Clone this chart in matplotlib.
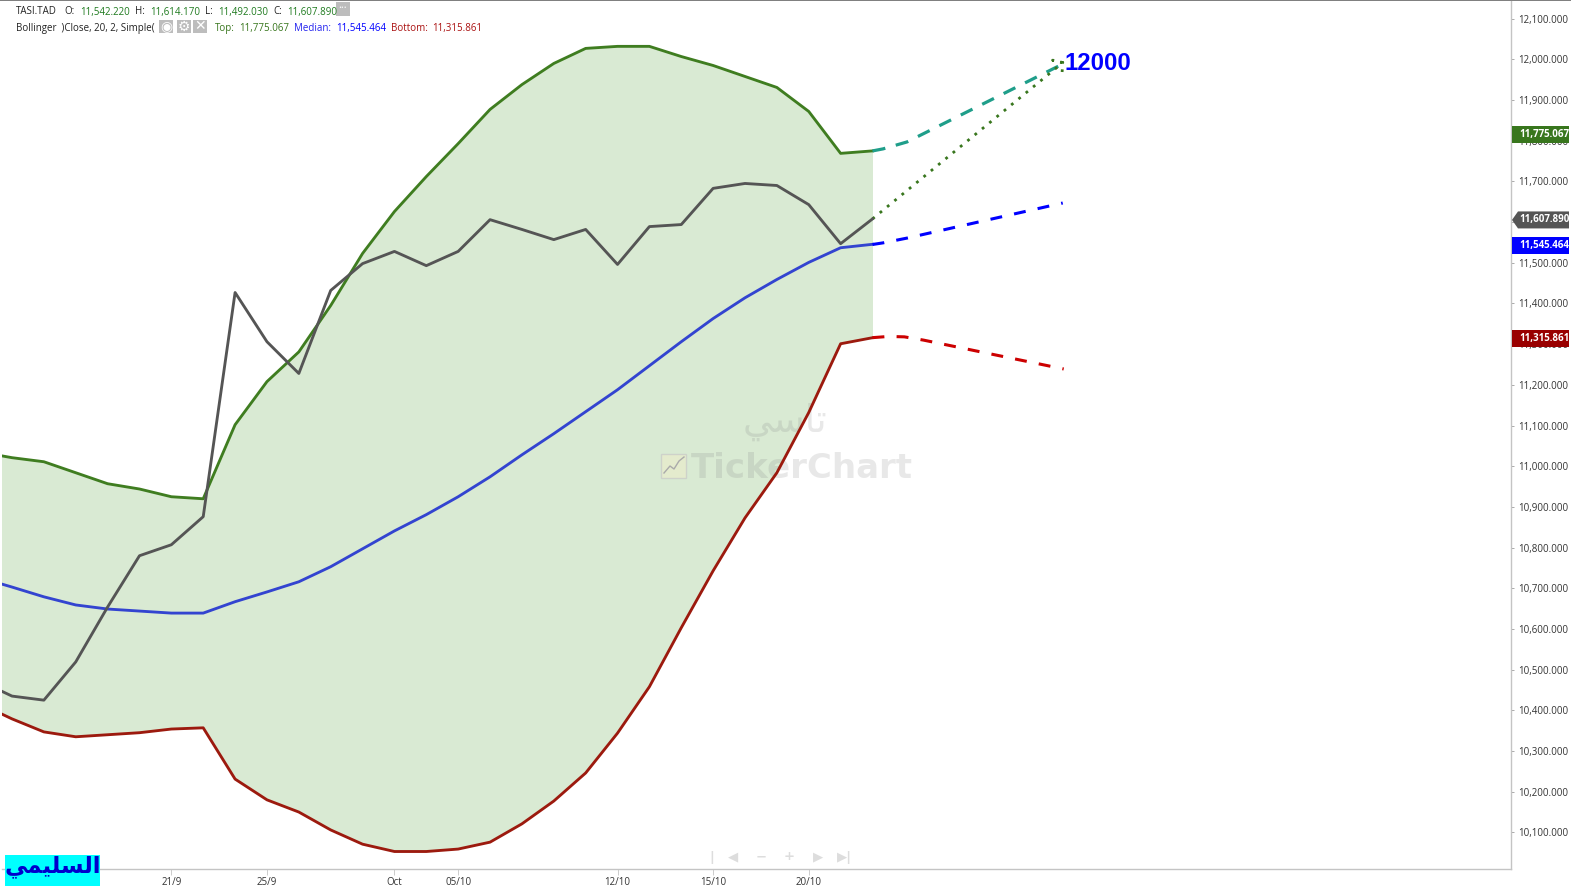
import numpy as np
import matplotlib
matplotlib.use("Agg")
import matplotlib.pyplot as plt
from matplotlib.patches import Rectangle, Polygon
from matplotlib.transforms import Affine2D

# daily bars, first one sits just off the left edge
top = [11035, 11021, 11011, 10984, 10957, 10944, 10925, 10920, 11102, 11208,
       11281, 11395, 11523, 11626, 11712, 11793, 11877, 11938, 11990, 12027,
       12032, 12032, 12007, 11985, 11958, 11931, 11872, 11769, 11775.067]
median = [10726, 10703, 10679, 10659, 10649, 10644, 10639, 10639, 10667, 10691,
          10716, 10753, 10797, 10841, 10881, 10925, 10974, 11028, 11080, 11134,
          11188, 11247, 11306, 11363, 11414, 11459, 11501, 11537, 11545.464]
bottom = [10416, 10379, 10347, 10335, 10340, 10345, 10354, 10357, 10231, 10180,
          10150, 10106, 10071, 10053, 10053, 10059, 10076, 10121, 10177, 10246,
          10344, 10458, 10603, 10743, 10873, 10984, 11132, 11301, 11315.861]
close = [10472, 10435, 10425, 10519, 10654, 10780, 10807, 10876, 11427, 11306,
         11228, 11432, 11498, 11528, 11493, 11528, 11606, 11582, 11557, 11582,
         11496, 11589, 11594, 11683, 11695, 11690, 11643, 11547, 11607.89]
bars = np.arange(-1, 28)

# hand drawn projections
proj_x = [27, 27.33, 28.08, 32.85]
proj_top = [11775, 11780, 11797, 11984]
proj_med_x = [27, 27.33, 28.1, 32.97]
proj_median = [11545, 11549, 11561, 11647]
proj_red_x = [27, 27.5, 28, 28.6, 33]
proj_bottom = [11316, 11319, 11318, 11310, 11239]
arrow_x = [27, 32.97, 32.65, 32.97, 32.95]
arrow_y = [11608, 11992, 11998, 11992, 11969]

date_pos = [5, 8, 12, 14, 19, 22, 25]
date_labels = ["21/9", "25/9", "Oct", "05/10", "12/10", "15/10", "20/10"]
price_ticks = np.arange(10100, 12101, 100)

W, H = 1571, 891
fig = plt.figure(figsize=(W / 100, H / 100), dpi=100)
px = Affine2D().scale(1, -1).translate(0, H)  # pixel coords, y down
FONT = "Open Sans"

left, right, ax_top, ax_bot = 1.5, 1510.5, 1, 869
ax = fig.add_axes([left / W, 1 - ax_bot / H, (right - left) / W, (ax_bot - ax_top) / H])
step = 31.87
ax.set_xlim((left - 12) / step, (right - 12) / step)
ymin, ymax = 10010, 12143.5
ax.set_ylim(ymin, ymax)

ax.fill_between(bars, bottom, top, color="#d9ead3", lw=0, zorder=1)

# watermark goes over the band
ax.text(785, 422, "\uFEF2\uFEB3\uFE8E\uFE97", transform=px, ha="center", va="center",
        fontsize=27, family="DejaVu Sans", color="#808080", alpha=0.18, zorder=1.5)
ax.text(802, 469, "TickerChart", transform=px, ha="center", va="center",
        fontsize=24.5, family="DejaVu Sans", weight="bold", color="#808080", alpha=0.18, zorder=1.5)
ax.add_patch(Rectangle((661, 454), 25, 24, transform=px, fc="#e9eccb", ec="#c8c8c8", alpha=0.7, lw=1, zorder=1.5))
ax.plot([664, 670, 674, 679, 684], [473, 466, 469, 461, 457], transform=px, color="#aaaaaa", lw=1, zorder=1.5)

lw = 2.05
ax.plot(bars, top, color="#3f7d20", lw=lw, zorder=3)
ax.plot(bars, median, color="#3344d0", lw=lw, zorder=3)
ax.plot(bars, bottom, color="#9c1a0e", lw=lw, zorder=3)
ax.plot(bars, close, color="#555555", lw=lw, zorder=4)

ax.plot(proj_x, proj_top, color="#1f9e8a", lw=2.3, dashes=(4.1, 3.4), zorder=3)
ax.plot(proj_med_x, proj_median, color="#0000ff", lw=2.2, dashes=(3.9, 4.0), zorder=3)
ax.plot(proj_red_x, proj_bottom, color="#cc0000", lw=2.2, dashes=(3.9, 4.0), zorder=3)
ax.plot(arrow_x, arrow_y, color="#38761d", lw=2, ls=(0, (1, 2.4)), zorder=3)

ax.text(1065, 64, "12000", transform=px, ha="left", va="center", fontsize=17.2,
        family="Liberation Sans", weight="bold", color="#0000ff", zorder=5)

for s in ["top", "left"]:
    ax.spines[s].set_visible(False)
for s in ["right", "bottom"]:
    ax.spines[s].set_color("#c4c4c4")
    ax.spines[s].set_linewidth(1)

ax.yaxis.tick_right()
ax.set_yticks(price_ticks)
ax.set_yticklabels([f"{v:,.3f}" for v in price_ticks], fontsize=7, family=FONT, color="#333333")
ax.tick_params(axis="y", length=2, width=0.7, color="#aaaaaa", pad=3.5)
ax.set_xticks(date_pos)
ax.set_xticklabels(date_labels, fontsize=7, family=FONT, color="#333333")
ax.tick_params(axis="x", length=4, width=0.7, color="#cccccc", pad=1.6)

# price tags on the right scale, the top one is pushed up off the 11,775 level
yt = ax.get_yaxis_transform()
tag_h = 17 / (ax_bot - ax_top) * (ymax - ymin)
fx = lambda p: (p - left) / (right - left)
tags = [(top[-1], 11815, "#38761d"), (median[-1], median[-1] - 2.5, "#0000ff"), (bottom[-1], bottom[-1] - 2, "#990000")]
for v, pos, c in tags:
    ax.add_patch(Rectangle((fx(1512), pos - tag_h / 2), fx(1569) - fx(1512), tag_h, transform=yt, fc=c, ec="none",
                           clip_on=False, zorder=6))
    ax.text(fx(1519.5), pos, f"{v:,.3f}", transform=yt, ha="left", va="center", fontsize=7,
            family=FONT, weight="bold", color="white", clip_on=False, zorder=7)
cl = close[-1] - 2.5
ax.add_patch(Polygon([(fx(1512), cl), (fx(1518), cl + tag_h / 2), (fx(1569), cl + tag_h / 2),
                      (fx(1569), cl - tag_h / 2), (fx(1518), cl - tag_h / 2)], transform=yt,
                     fc="#555555", ec="none", clip_on=False, zorder=6))
ax.text(fx(1519.5), cl, f"{close[-1]:,.3f}", transform=yt, ha="left", va="center", fontsize=7,
        family=FONT, weight="bold", color="white", clip_on=False, zorder=7)

# legend header, pieces placed by hand
GREEN, DK = "#1e7a1e", "#222222"
header = [(16, 12, "TASI.TAD", DK), (64, 12, "O:", DK), (80, 12, "11,542.220", GREEN),
          (135, 12, "H:", DK), (150, 12, "11,614.170", GREEN), (205, 12, "L:", DK),
          (218, 12, "11,492.030", GREEN), (273, 12, "C:", DK), (287, 12, "11,607.890", GREEN),
          (16, 28.5, "Bollinger  )Close, 20, 2, Simple(", DK),
          (215, 28.5, "Top:", "#38761d"), (239, 28.5, "11,775.067", "#38761d"),
          (294, 28.5, "Median:", "#2222ee"), (336, 28.5, "11,545.464", "#0000ff"),
          (391, 28.5, "Bottom:", "#aa1111"), (432, 28.5, "11,315.861", "#aa1111")]
for x, y, s, c in header:
    fig.text(x, y, s, transform=px, ha="left", va="center", fontsize=7, family=FONT, color=c, zorder=8)

box = lambda x, y, w, h, c="#bdbdbd": fig.add_artist(Rectangle((x, y), w, h, transform=px, fc=c, ec="none", zorder=7))
box(336, 2, 14, 14)
fig.text(343, 8, "•••", transform=px, ha="center", va="center", fontsize=3.5, color="white", zorder=8)
for x, s in [(159, "◉"), (177, "⚙"), (193, "✕")]:
    box(x, 20, 14, 13)
    fig.text(x + 7, 26.5, s, transform=px, ha="center", va="center", fontsize=10,
             family="DejaVu Sans", color="white", zorder=8)

# chart nav buttons
for x, s in [(712, "|"), (733, "◀"), (761, "−"), (789, "+"), (818, "▶"), (845, "▶|")]:
    fig.text(x, 857, s, transform=px, ha="center", va="center", fontsize=9.5,
             family="DejaVu Sans", weight="bold", color="#dddddd", zorder=8)

# top rule
fig.add_artist(Rectangle((0, 0), W, 1.2, transform=px, fc="#808080", ec="none", zorder=8))

# badge bottom left
fig.add_artist(Rectangle((5, 855), 95, 31, transform=px, fc="#00ffff", ec="none", zorder=8))
fig.text(52.5, 866, "\uFEF2\uFEE4\uFEF4\uFEE0\uFEB4\uFEDF\uFE8D", transform=px, ha="center", va="center",
         fontsize=16.5, family="DejaVu Sans", weight="bold", color="#0000cc", zorder=9)

fig.savefig("out.png", dpi=100, facecolor="white")
